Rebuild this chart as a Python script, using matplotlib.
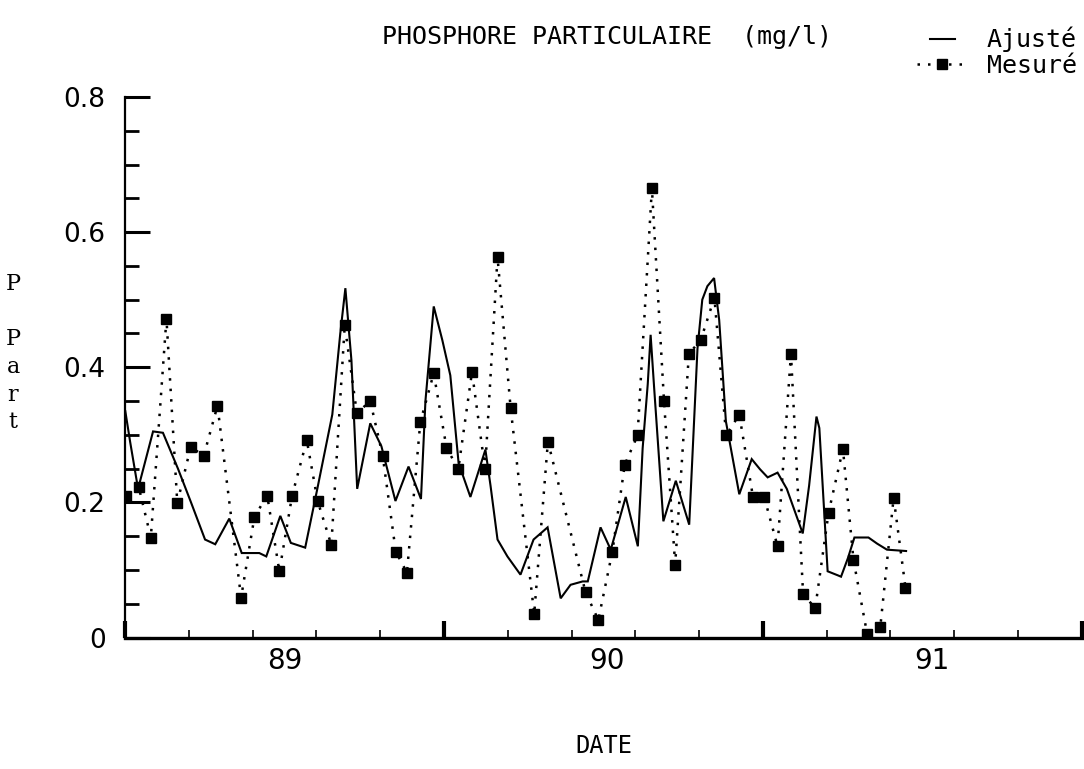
import matplotlib
matplotlib.use("Agg")
import matplotlib.pyplot as plt
from matplotlib.legend_handler import HandlerLine2D
from matplotlib.ticker import MultipleLocator, FixedLocator, NullFormatter

# Fitted (model) series: decimal year, particulate phosphorus (mg/l)
fit_dates = [
    1989.001, 1989.016, 1989.041, 1989.088, 1989.119, 1989.166, 1989.207,
    1989.251, 1989.283, 1989.327, 1989.366, 1989.421, 1989.443, 1989.487,
    1989.520, 1989.565, 1989.603, 1989.650, 1989.675, 1989.691, 1989.710,
    1989.728, 1989.769, 1989.804, 1989.848, 1989.889, 1989.928, 1989.942,
    1989.968, 1989.995, 1990.020, 1990.046, 1990.083, 1990.130, 1990.146,
    1990.168, 1990.199, 1990.240, 1990.281, 1990.325, 1990.366, 1990.397,
    1990.435, 1990.451, 1990.491, 1990.523, 1990.570, 1990.608, 1990.623,
    1990.639, 1990.648, 1990.659, 1990.688, 1990.727, 1990.769, 1990.795,
    1990.810, 1990.826, 1990.847, 1990.863, 1990.884, 1990.926, 1990.965,
    1990.991, 1991.015, 1991.046, 1991.075, 1991.125, 1991.145, 1991.168,
    1991.177, 1991.203, 1991.235, 1991.245, 1991.267, 1991.287, 1991.331,
    1991.358, 1991.389, 1991.449,
]
fit_values = [
    0.335, 0.290, 0.220, 0.305, 0.303, 0.250, 0.200,
    0.145, 0.138, 0.176, 0.125, 0.125, 0.120, 0.180,
    0.140, 0.133, 0.220, 0.330, 0.450, 0.517, 0.410,
    0.220, 0.317, 0.283, 0.202, 0.253, 0.205, 0.350,
    0.490, 0.440, 0.388, 0.258, 0.208, 0.278, 0.225,
    0.145, 0.120, 0.093, 0.145, 0.163, 0.058, 0.078,
    0.083, 0.083, 0.163, 0.130, 0.208, 0.135, 0.280,
    0.375, 0.448, 0.370, 0.172, 0.232, 0.167, 0.428,
    0.500, 0.520, 0.532, 0.470, 0.320, 0.212, 0.264,
    0.249, 0.237, 0.244, 0.220, 0.154, 0.225, 0.327,
    0.310, 0.098, 0.092, 0.090, 0.118, 0.148, 0.148,
    0.139, 0.130, 0.128,
]

# Measured samples
meas_dates = [
    1989.004, 1989.043, 1989.081, 1989.130, 1989.164, 1989.206, 1989.247,
    1989.290, 1989.364, 1989.406, 1989.446, 1989.484, 1989.524, 1989.570,
    1989.604, 1989.647, 1989.689, 1989.727, 1989.769, 1989.808, 1989.849,
    1989.884, 1989.926, 1989.968, 1990.008, 1990.045, 1990.088, 1990.129,
    1990.168, 1990.209, 1990.283, 1990.326, 1990.444, 1990.484, 1990.528,
    1990.567, 1990.607, 1990.652, 1990.690, 1990.725, 1990.768, 1990.805,
    1990.848, 1990.885, 1990.926, 1990.969, 1991.004, 1991.046, 1991.088,
    1991.126, 1991.164, 1991.206, 1991.251, 1991.284, 1991.327, 1991.368,
    1991.410, 1991.447,
]
meas_values = [
    0.210, 0.223, 0.148, 0.472, 0.199, 0.282, 0.269,
    0.343, 0.059, 0.179, 0.210, 0.098, 0.210, 0.292,
    0.202, 0.137, 0.462, 0.332, 0.350, 0.269, 0.127,
    0.096, 0.319, 0.391, 0.281, 0.249, 0.393, 0.249,
    0.563, 0.340, 0.035, 0.290, 0.067, 0.026, 0.127,
    0.256, 0.299, 0.665, 0.350, 0.108, 0.420, 0.440,
    0.503, 0.299, 0.330, 0.208, 0.208, 0.135, 0.420,
    0.065, 0.043, 0.185, 0.279, 0.115, 0.005, 0.015,
    0.207, 0.074,
]

year_labels = ["89", "90", "91"]
year_label_pos = [1989.50, 1990.51, 1991.53]
y_ticks = [0, 0.2, 0.4, 0.6, 0.8]
y_tick_labels = ["0", "0.2", "0.4", "0.6", "0.8"]

MONO = "DejaVu Sans Mono"

fig = plt.figure(figsize=(10.84, 7.69), dpi=100)
ax = fig.add_axes([0.1153, 0.1710, 0.8827, 0.7029])

fit_line, = ax.plot(fit_dates, fit_values, color="black", lw=1.5,
                    solid_joinstyle="miter", label="Ajusté")
meas_line, = ax.plot(meas_dates, meas_values, color="black", lw=1.8,
                     linestyle=(0, (1, 3.2)), dash_capstyle="butt",
                     marker="s", markersize=7, markerfacecolor="black",
                     markeredgecolor="black", label="Mesuré")

ax.set_xlim(1989.0, 1992.0)
ax.set_ylim(0, 0.8)

for side in ("top", "right"):
    ax.spines[side].set_visible(False)
ax.spines["left"].set_linewidth(1.6)
ax.spines["bottom"].set_linewidth(2.4)

# y axis ticks point inward
ax.set_yticks(y_ticks)
ax.set_yticklabels(y_tick_labels)
ax.yaxis.set_minor_locator(MultipleLocator(0.05))
ax.tick_params(axis="y", which="major", direction="in", length=18, width=2.2,
               pad=14, labelsize=19, colors="black")
ax.tick_params(axis="y", which="minor", direction="in", length=10, width=2.0)

# x axis: tall ticks at year boundaries, short ones every 0.2 year
ax.xaxis.set_major_locator(FixedLocator([1989, 1990, 1991, 1992]))
ax.xaxis.set_major_formatter(NullFormatter())
ax.xaxis.set_minor_locator(MultipleLocator(0.2))
ax.tick_params(axis="x", which="major", direction="in", length=12, width=3.0)
ax.tick_params(axis="x", which="minor", direction="in", length=6, width=1.2)

# year labels centred within each year
sec = ax.secondary_xaxis("bottom")
sec.set_xticks(year_label_pos)
sec.set_xticklabels(year_labels)
sec.tick_params(axis="x", length=0, pad=7, labelsize=20)
sec.spines["bottom"].set_visible(False)

ax.set_xlabel("DATE", family=MONO, fontsize=17, labelpad=66)

fig.text(0.560, 0.952, "PHOSPHORE PARTICULAIRE  (mg/l)", family=MONO,
         fontsize=18, ha="center", va="center")

fig.text(0.012, 0.541, "P\n\nP\na\nr\nt", family="DejaVu Serif",
         fontsize=16, ha="center", va="center", linespacing=1.34,
         multialignment="center")


class ShortLineHandler(HandlerLine2D):
    """Draws the legend line at half the normal handle length."""

    def create_artists(self, legend, orig_handle, xdescent, ydescent,
                       width, height, fontsize, trans):
        return super().create_artists(legend, orig_handle,
                                      xdescent - width * 0.25, ydescent,
                                      width * 0.5, height, fontsize, trans)


leg = ax.legend(handles=[fit_line, meas_line],
                handler_map={fit_line: ShortLineHandler()},
                loc="upper right", bbox_to_anchor=(1077 / 1084, 1 - 27 / 769),
                bbox_transform=fig.transFigure, frameon=False,
                prop={"family": MONO, "size": 18}, numpoints=1,
                handlelength=2.0, handletextpad=0.8, labelspacing=0.05,
                borderpad=0, borderaxespad=0)

fig.savefig("out.png", dpi=100, facecolor="white")
